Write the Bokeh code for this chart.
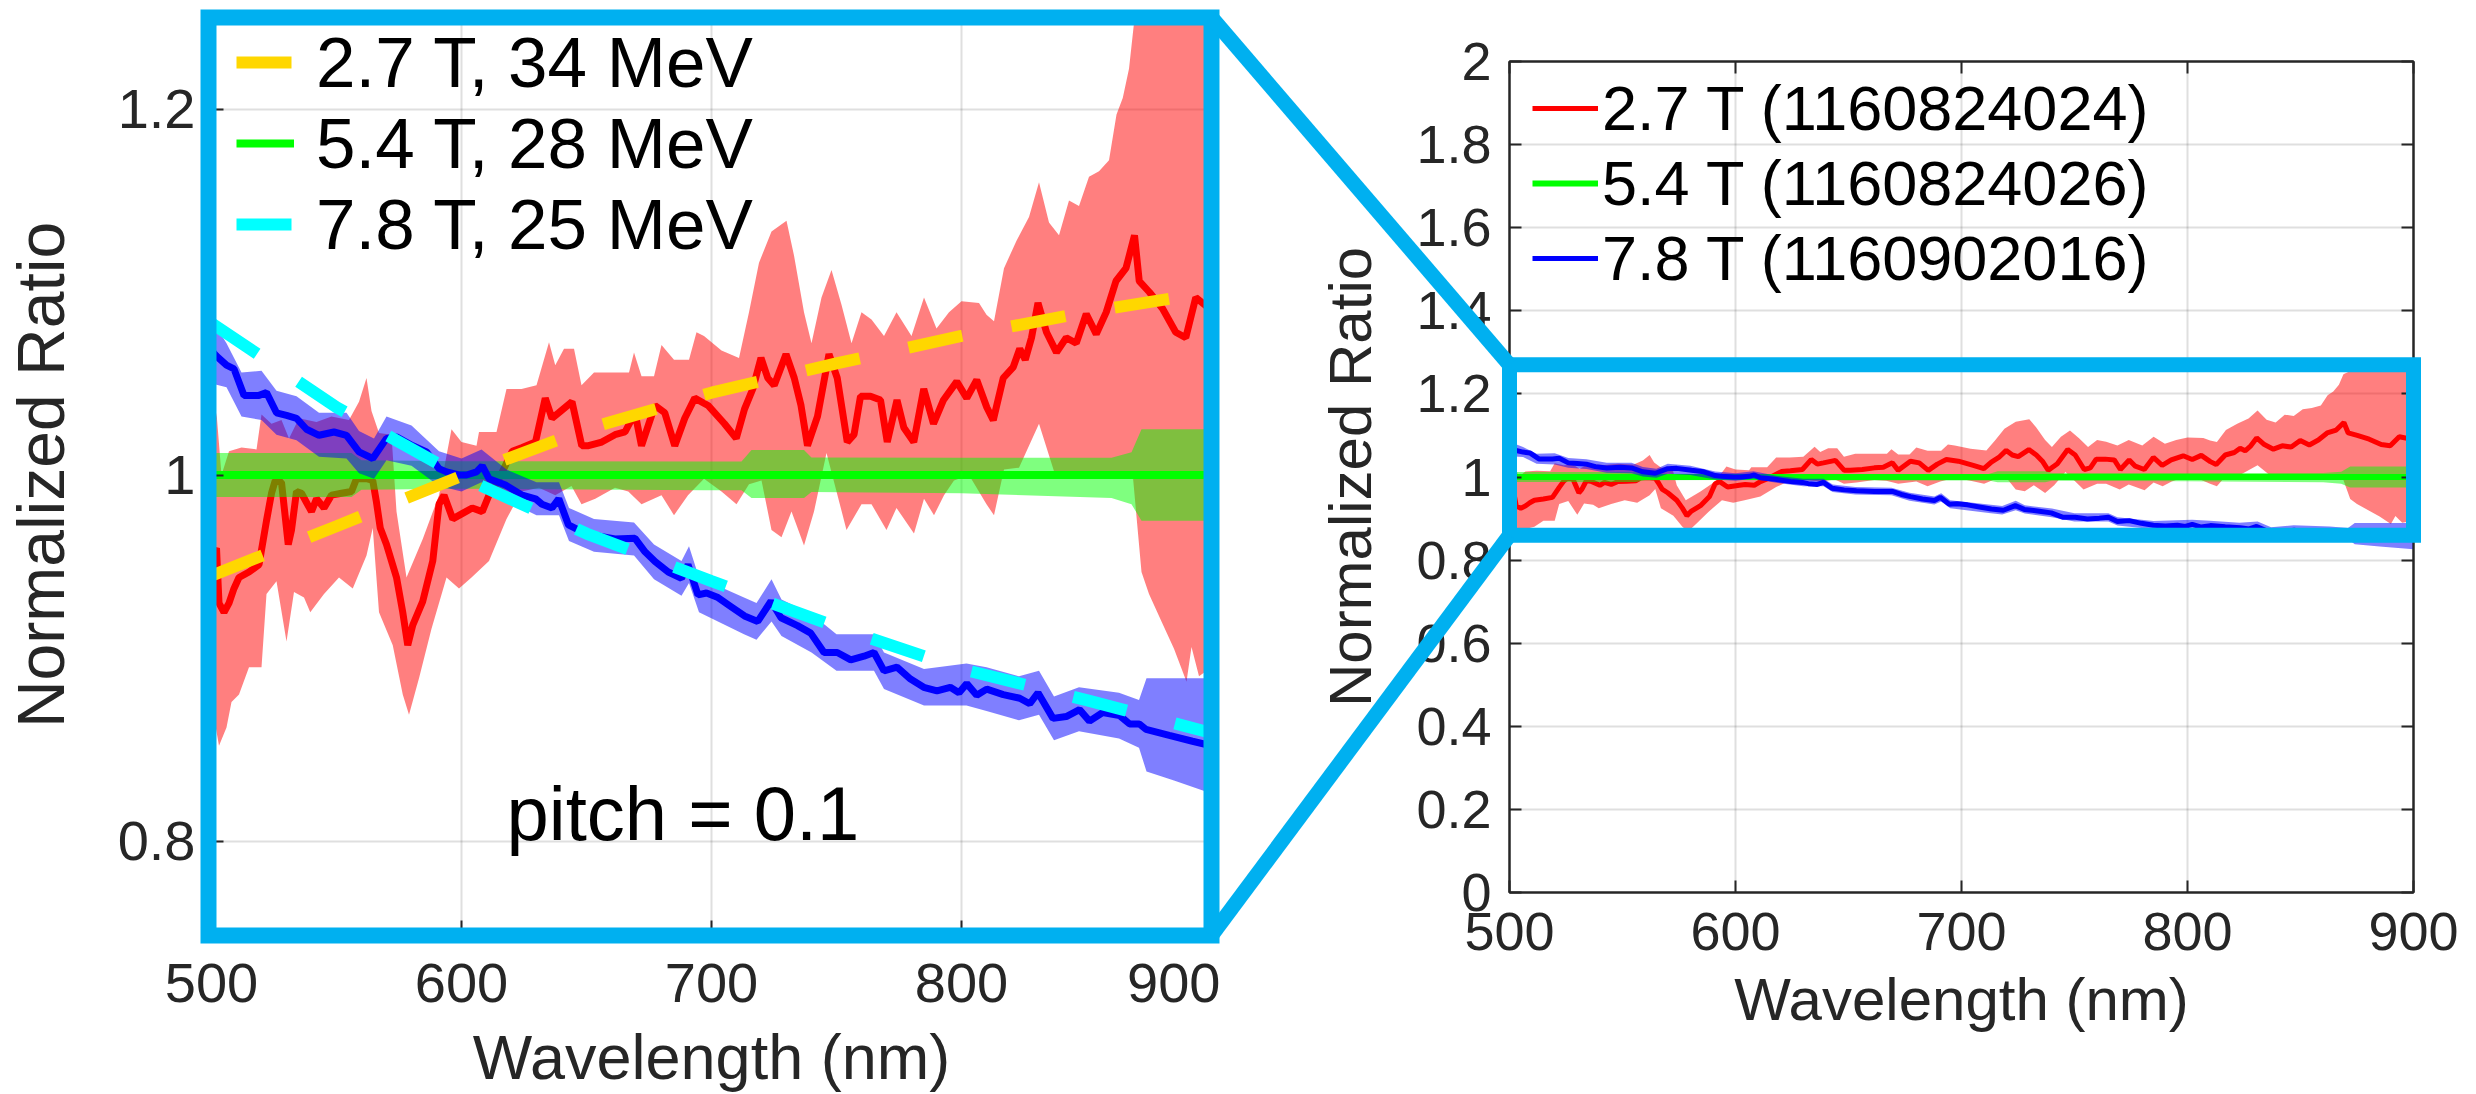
from bokeh.plotting import figure
from bokeh.models import Range1d, FixedTicker, Legend, LegendItem, Label, LinearAxis
from bokeh.layouts import row, column
from bokeh.embed import file_html
from bokeh.resources import INLINE

FONT = "Liberation Sans"
AX_COLOR = "#262626"
ZOOM_BLUE = "#00B0F0"

# ---------------- data ----------------
x_ticks = [500, 600, 700, 800, 900]
x_tick_labels = ["500", "600", "700", "800", "900"]
zoom_y_ticks = [0.8, 1.0, 1.2]
zoom_y_tick_labels = ["0.8", "1", "1.2"]
full_y_ticks = [0, 0.2, 0.4, 0.6, 0.8, 1.0, 1.2, 1.4, 1.6, 1.8, 2.0]
full_y_tick_labels = ["0", "0.2", "0.4", "0.6", "0.8", "1", "1.2", "1.4", "1.6", "1.8", "2"]

fit_labels = ["2.7 T, 34 MeV", "5.4 T, 28 MeV", "7.8 T, 25 MeV"]
shot_labels = ["2.7 T (1160824024)", "5.4 T (1160824026)", "7.8 T (1160902016)"]
pitch_text = "pitch = 0.1"

# 2.7 T measured ratio
red_wl = [500, 502, 503, 505, 507, 509, 511, 515, 519, 522, 524, 525.5, 528, 530.7, 532, 534, 536, 538, 540, 542,
          545, 548, 552, 556, 558, 562, 564.5, 566, 567.5, 570, 574, 576.5, 578.5, 580.5, 584.5, 588.5, 591, 593, 596.5, 601.7,
          604.3, 608.3, 611, 615, 620.3, 624.3, 629.6, 633.5, 636.2, 638.9, 644.2, 648.1, 650.8, 656.1, 661.4, 665.4, 669.4, 672, 677.4, 681.3,
          685.3, 689.3, 693.3, 698.6, 705.2, 709.9, 713.2, 716.5, 719.8, 722.5, 725.1, 729.8, 733.1, 735.8, 738.4, 742.4, 747, 750.3, 754.3, 757,
          759.6, 763.6, 767.6, 770.3, 774.2, 776.9, 780.9, 784.9, 788.8, 792.8, 798.1, 802.1, 806.1, 810.1, 812.7, 816.7, 820.7, 823.3, 825.5, 828,
          830.6, 834, 838, 841.9, 845.9, 849.9, 853.9, 857.9, 861.8, 865.8, 869.2, 871.1, 875.1, 880.4, 885.7, 889.7, 893.7, 900]
red_ratio = [0.955, 0.96, 0.93, 0.925, 0.93, 0.938, 0.944, 0.947, 0.951, 0.975, 0.99, 0.997, 0.996, 0.962, 0.97, 0.991, 0.99, 0.985, 0.98, 0.987,
             0.982, 0.989, 0.99, 0.991, 0.998, 0.998, 0.997, 0.985, 0.971, 0.962, 0.944, 0.925, 0.907, 0.918, 0.931, 0.953, 0.984, 0.989, 0.976, 0.98,
             0.982, 0.98, 0.989, 0.998, 1.013, 1.015, 1.018, 1.042, 1.031, 1.034, 1.04, 1.016, 1.016, 1.018, 1.022, 1.0235, 1.034, 1.016, 1.038, 1.034,
             1.016, 1.031, 1.042, 1.038, 1.028, 1.02, 1.036, 1.047, 1.064, 1.053, 1.049, 1.066, 1.053, 1.038, 1.016, 1.032, 1.066, 1.053, 1.018, 1.022,
             1.043, 1.043, 1.041, 1.018, 1.041, 1.026, 1.018, 1.047, 1.028, 1.041, 1.051, 1.042, 1.052, 1.037, 1.030, 1.053, 1.059, 1.069, 1.063, 1.075,
             1.094, 1.078, 1.067, 1.075, 1.072, 1.088, 1.077, 1.089, 1.106, 1.113, 1.131, 1.106, 1.100, 1.091, 1.078, 1.075, 1.097, 1.09]
red_up_wl = [500, 502, 504, 507, 512, 518, 520, 524, 528, 531, 535, 542, 548, 555, 559, 562, 564, 567, 572, 574,
             578, 584.5, 591, 596, 600, 606, 607, 614, 618, 624, 630, 635, 637.5, 641, 645, 648, 653, 667, 669, 672,
             677, 680, 685, 691, 694, 697, 704, 711, 715, 719, 724, 730, 733, 737, 740, 744, 748, 752, 756, 760,
             764, 769, 774, 780, 785, 790, 795, 800, 807, 810, 813, 817, 822, 827, 831, 835, 839, 843, 847, 851,
             855, 859, 862, 864.5, 867, 869, 872, 880, 890, 900]
red_up = [1.010, 1.034, 1.000, 1.013, 1.015, 1.014, 1.033, 1.028, 1.030, 1.020, 1.031, 1.029, 1.032, 1.030, 1.040, 1.053, 1.035, 1.023, 1.022, 0.980,
          0.944, 0.965, 0.989, 1.025, 1.018, 1.016, 1.0235, 1.0235, 1.047, 1.047, 1.049, 1.0726, 1.060, 1.069, 1.069, 1.049, 1.056, 1.056, 1.067, 1.054,
          1.054, 1.071, 1.063, 1.063, 1.078, 1.076, 1.068, 1.064, 1.089, 1.116, 1.133, 1.139, 1.120, 1.089, 1.072, 1.097, 1.112, 1.093, 1.072, 1.089,
          1.085, 1.076, 1.089, 1.076, 1.097, 1.080, 1.089, 1.095, 1.094, 1.0876, 1.084, 1.113, 1.128, 1.141, 1.160, 1.138, 1.131, 1.150, 1.147, 1.163,
          1.166, 1.172, 1.197, 1.206, 1.222, 1.247, 1.255, 1.260, 1.262, 1.262]
red_lo_wl = [500, 503, 506, 508, 511, 515, 520, 522, 526, 530, 533, 537, 539.5, 545, 551, 556.5, 562, 564.5, 567, 572.5,
             576.5, 579, 583, 588, 594, 599, 604, 611, 618, 624, 631, 637.5, 644, 648, 653.5, 661.4, 666.7, 672, 680, 685,
             690.6, 697, 704, 710, 715, 720, 724, 728, 732, 737, 741, 746, 750, 754, 760, 764, 770, 774, 781, 785,
             789, 793, 797, 803, 810, 813, 817, 823, 831, 837, 843, 850, 857, 863, 868.5, 872, 875, 880, 885, 890,
             892, 895, 900]
red_lo = [0.875, 0.852, 0.862, 0.876, 0.880, 0.895, 0.895, 0.935, 0.942, 0.909, 0.936, 0.933, 0.925, 0.935, 0.944, 0.938, 0.956, 0.971, 0.925, 0.907,
          0.880, 0.869, 0.889, 0.916, 0.944, 0.938, 0.944, 0.953, 0.976, 0.991, 0.993, 0.989, 0.994, 0.984, 0.987, 0.993, 0.991, 0.984, 0.989, 0.978,
          0.989, 0.998, 0.991, 0.984, 0.995, 0.997, 0.970, 0.966, 0.980, 0.9615, 0.980, 1.012, 0.991, 0.970, 0.984, 0.984, 0.970, 0.982, 0.968, 0.987,
          0.978, 0.989, 0.997, 1.000, 0.984, 0.978, 1.003, 1.004, 1.028, 1.002, 0.998, 1.000, 1.001, 0.999, 1.000, 0.947, 0.935, 0.920, 0.905, 0.887,
          0.906, 0.890, 0.895]

# 5.4 T measured ratio (reference shot, flat at 1)
green_wl = [500, 900]
green_ratio = [1.0, 1.0]
green_band_wl = [500, 556, 560, 600, 697, 712, 716, 737, 740, 800, 860, 868, 872, 900]
green_up = [1.012, 1.012, 1.008, 1.0075, 1.0074, 1.0074, 1.0136, 1.0136, 1.0095, 1.0094, 1.0094, 1.0125, 1.025, 1.025]
green_lo = [0.988, 0.988, 0.992, 0.9925, 0.9917, 0.9917, 0.9875, 0.9875, 0.9907, 0.990, 0.9875, 0.984, 0.975, 0.975]

# 7.8 T measured ratio
blue_wl = [500, 502, 506, 509, 513, 519, 522, 526, 530, 534, 538, 543, 549, 554, 559, 564.5, 570, 574, 580.5, 586,
           591, 594, 599, 602, 606, 608.3, 611, 617.6, 624.3, 629.6, 632.2, 636.2, 638.9, 642.8, 648.1, 653.5, 661.4, 669.4, 673.4, 677.4,
           682.7, 688, 690.6, 694.6, 698, 702.6, 707.9, 713.2, 718.5, 723.8, 727.8, 734.4, 739.7, 745, 750.3, 755.7, 761, 765, 769, 774.2,
           779.6, 784.9, 790.2, 795.5, 799, 802.1, 806.1, 810.1, 816.7, 823.3, 827.3, 830.6, 836.6, 841.9, 847.2, 851.2, 856.5, 863.2, 867.2, 871.1,
           873.8, 883.1, 892.4, 900]
blue_ratio = [1.068, 1.065, 1.060, 1.058, 1.0435, 1.0435, 1.045, 1.034, 1.0326, 1.031, 1.025, 1.0217, 1.0235, 1.0217, 1.0126, 1.009, 1.020, 1.0208, 1.016, 1.0126,
              1.0035, 1.0017, 1.000, 1.000, 1.0017, 1.005, 0.998, 0.9945, 0.989, 0.987, 0.984, 0.982, 0.987, 0.9727, 0.969, 0.967, 0.965, 0.9654, 0.958, 0.9527,
              0.947, 0.9436, 0.951, 0.9345, 0.9355, 0.933, 0.928, 0.923, 0.920, 0.931, 0.922, 0.9177, 0.9136, 0.903, 0.903, 0.899, 0.901, 0.903, 0.893, 0.895,
              0.8885, 0.884, 0.882, 0.884, 0.881, 0.886, 0.8796, 0.883, 0.880, 0.878, 0.875, 0.881, 0.867, 0.868, 0.8718, 0.8655, 0.8702, 0.8686, 0.864, 0.864,
              0.861, 0.8577, 0.8545, 0.852]
blue_band_wl = [500, 506, 512, 520, 526, 534, 543, 554, 559, 565, 570, 580, 591, 600, 608, 618, 630, 639, 643, 653,
                669, 677, 688, 691, 695, 713, 718, 724, 728, 740, 750, 765, 769, 785, 802, 810, 823, 831, 837, 847,
                863, 871, 874, 885, 900]
blue_up = [1.085, 1.072, 1.056, 1.057, 1.046, 1.043, 1.034, 1.034, 1.024, 1.020, 1.032, 1.027, 1.013, 1.009, 1.014, 1.003, 0.996, 0.996, 0.982, 0.976,
           0.974, 0.962, 0.953, 0.961, 0.944, 0.933, 0.930, 0.943, 0.932, 0.924, 0.913, 0.913, 0.903, 0.894, 0.897, 0.895, 0.890, 0.893, 0.879, 0.884,
           0.881, 0.877, 0.889, 0.889, 0.889]
blue_lo = [1.050, 1.048, 1.032, 1.030, 1.022, 1.019, 1.010, 1.009, 1.001, 0.998, 1.008, 1.005, 0.994, 0.991, 0.996, 0.986, 0.978, 0.978, 0.964, 0.958,
           0.956, 0.943, 0.934, 0.941, 0.925, 0.913, 0.910, 0.920, 0.912, 0.903, 0.893, 0.893, 0.883, 0.874, 0.874, 0.871, 0.866, 0.869, 0.855, 0.860,
           0.856, 0.851, 0.838, 0.833, 0.826]

# model curves (dashed) in the zoomed panel
fit_wl = [500, 550, 600, 650, 700, 750, 800, 850, 900]
fit_27T = [0.945, 0.972, 0.9995, 1.025, 1.045, 1.061, 1.076, 1.089, 1.100]
fit_78T = [1.083, 1.037, 0.999, 0.968, 0.942, 0.917, 0.894, 0.877, 0.859]

# axis limits of the two panels and the region of the full panel that is enlarged (as drawn)
x_lim = (500, 900)
zoom_y_lim = (0.75, 1.25)
full_y_lim = (0, 2)
zoom_box_x = [500, 900]
zoom_box_y = [0.86, 1.27]

# ---------------- layout constants ----------------
W, H = 2476, 1094
LW = 1220
RW = W - LW
L_MB = dict(left=208, right=9, top=17, bottom=159)
R_MB = dict(left=289, right=63, top=61, bottom=202)


def make_fig(width, yr, mb):
    p = figure(width=width, height=H, x_range=Range1d(*x_lim), y_range=Range1d(*yr),
               output_backend="svg", toolbar_location=None, title=None, frame_align=False,
               min_border_left=mb["left"], min_border_right=mb["right"],
               min_border_top=mb["top"], min_border_bottom=mb["bottom"])
    p.background_fill_color = "white"
    p.border_fill_color = "white"
    p.outline_line_color = None
    return p


def style_axis(ax, ticks, labels, tick_px, label_px, std, lstd, text, line_color):
    ax.ticker = FixedTicker(ticks=ticks)
    ax.major_label_overrides = dict(zip(ticks, labels))
    ax.major_label_text_font = FONT
    ax.major_label_text_font_size = f"{tick_px}px"
    ax.major_label_text_color = AX_COLOR
    ax.major_label_standoff = std
    ax.axis_label = text
    ax.axis_label_text_font = FONT
    ax.axis_label_text_font_size = f"{label_px}px"
    ax.axis_label_text_font_style = "normal"
    ax.axis_label_text_color = AX_COLOR
    ax.axis_label_standoff = lstd
    ax.axis_line_color = line_color
    ax.axis_line_width = 2
    ax.major_tick_line_color = AX_COLOR
    ax.major_tick_line_width = 2
    ax.major_tick_in = 12
    ax.major_tick_out = 0
    ax.minor_tick_line_color = None


def style_grid(p, xt, yt):
    p.xgrid.ticker = FixedTicker(ticks=xt)
    p.ygrid.ticker = FixedTicker(ticks=yt)
    for g in (p.xgrid, p.ygrid):
        g.grid_line_color = AX_COLOR
        g.grid_line_alpha = 0.15
        g.grid_line_width = 2


def draw_measured(p, lw, glw):
    p.patch(red_up_wl + red_lo_wl[::-1], red_up + red_lo[::-1],
            fill_color="#FF0000", fill_alpha=0.5, line_color=None)
    r = p.line(red_wl, red_ratio, line_color="#FF0000", line_width=lw)
    p.patch(green_band_wl + green_band_wl[::-1], green_up + green_lo[::-1],
            fill_color="#00FF00", fill_alpha=0.5, line_color=None)
    g = p.line(green_wl, green_ratio, line_color="#00FF00", line_width=glw)
    p.patch(blue_band_wl + blue_band_wl[::-1], blue_up + blue_lo[::-1],
            fill_color="#0000FF", fill_alpha=0.5, line_color=None)
    b = p.line(blue_wl, blue_ratio, line_color="#0000FF", line_width=lw)
    return r, g, b


# ---------------- left: enlarged panel ----------------
p1 = make_fig(LW, zoom_y_lim, L_MB)
style_axis(p1.xaxis[0], x_ticks, x_tick_labels, 56, 63, 31, 17, "Wavelength (nm)", None)
style_axis(p1.yaxis[0], zoom_y_ticks, zoom_y_tick_labels, 56, 66, 16, 37, "Normalized Ratio", None)
style_grid(p1, x_ticks, zoom_y_ticks)

_, g1, _ = draw_measured(p1, 7, 8)
y_fit = p1.line(fit_wl, fit_27T, line_color="#FFD700", line_width=12, line_dash="55 50")
c_fit = p1.line(fit_wl, fit_78T, line_color="#00FFFF", line_width=12, line_dash="55 50")

L_FW = LW - L_MB["left"] - L_MB["right"]
L_FH = H - L_MB["top"] - L_MB["bottom"]
leg1_px, leg1_gap = 71, 0
leg1_row = round(leg1_px * 1.117)
leg1_h = 3 * leg1_row + 2 * leg1_gap
leg1 = Legend(items=[LegendItem(label=fit_labels[0], renderers=[y_fit]),
                     LegendItem(label=fit_labels[1], renderers=[g1]),
                     LegendItem(label=fit_labels[2], renderers=[c_fit])],
              location=(25, L_FH - (70 - leg1_row / 2 - L_MB["top"]) - leg1_h),
              label_text_font=FONT, label_text_font_size=f"{leg1_px}px", label_text_color="black",
              glyph_width=58, glyph_height=20, label_standoff=22, label_height=20,
              spacing=leg1_gap, padding=0, margin=0,
              border_line_color=None, background_fill_alpha=0)
p1.add_layout(leg1)

p1.add_layout(Label(x=618, y=0.815, text=pitch_text, text_font=FONT, text_font_size="76px",
                    text_color="black", text_baseline="alphabetic", text_align="left"))

# ---------------- right: full panel ----------------
p2 = make_fig(RW, full_y_lim, R_MB)
p2.outline_line_color = AX_COLOR
p2.outline_line_width = 2
style_axis(p2.xaxis[0], x_ticks, x_tick_labels, 54, 60, 20, 13, "Wavelength (nm)", AX_COLOR)
style_axis(p2.yaxis[0], full_y_ticks, full_y_tick_labels, 54, 60, 18, 29, "Normalized Ratio", AX_COLOR)
style_grid(p2, x_ticks, full_y_ticks)
for place, ticks in (("above", x_ticks), ("right", full_y_ticks)):
    p2.add_layout(LinearAxis(ticker=FixedTicker(ticks=ticks), major_label_text_font_size="1px",
                             major_label_text_color=None, major_label_standoff=0,
                             axis_line_color=AX_COLOR, axis_line_width=2,
                             major_tick_in=12, major_tick_out=0, major_tick_line_color=AX_COLOR,
                             major_tick_line_width=2, minor_tick_line_color=None), place)

r2, g2, b2 = draw_measured(p2, 5, 6)
R_FW = RW - R_MB["left"] - R_MB["right"]
R_FH = H - R_MB["top"] - R_MB["bottom"]
leg2_px, leg2_gap = 63, 3
leg2_row = round(leg2_px * 1.117)
leg2_h = 3 * leg2_row + 2 * leg2_gap
leg2 = Legend(items=[LegendItem(label=shot_labels[0], renderers=[r2]),
                     LegendItem(label=shot_labels[1], renderers=[g2]),
                     LegendItem(label=shot_labels[2], renderers=[b2])],
              location=(23, R_FH - (113 - leg2_row / 2 - R_MB["top"]) - leg2_h),
              label_text_font=FONT, label_text_font_size=f"{leg2_px}px", label_text_color="black",
              glyph_width=66, glyph_height=20, label_standoff=4, label_height=20,
              spacing=leg2_gap, padding=0, margin=0,
              border_line_color=None, background_fill_alpha=0)
p2.add_layout(leg2)


# ---------------- transparent overlay: zoom boxes and connector lines ----------------
def left_page(x, y):
    return (L_MB["left"] + (x - x_lim[0]) / (x_lim[1] - x_lim[0]) * L_FW,
            L_MB["top"] + (zoom_y_lim[1] - y) / (zoom_y_lim[1] - zoom_y_lim[0]) * L_FH)


def right_page(x, y):
    return (LW + R_MB["left"] + (x - x_lim[0]) / (x_lim[1] - x_lim[0]) * R_FW,
            R_MB["top"] + (full_y_lim[1] - y) / (full_y_lim[1] - full_y_lim[0]) * R_FH)


ov = figure(width=W, height=H, x_range=Range1d(0, W), y_range=Range1d(H, 0),
            output_backend="svg", toolbar_location=None, title=None, frame_align=False,
            x_axis_type=None, y_axis_type=None,
            min_border_left=0, min_border_right=0, min_border_top=0, min_border_bottom=0)
ov.background_fill_color = None
ov.border_fill_color = None
ov.outline_line_color = None
ov.margin = (-H, 0, 0, 0)

l_x0, l_y0 = left_page(x_lim[0], zoom_y_lim[1])
l_x1, l_y1 = left_page(x_lim[1], zoom_y_lim[0])
r_x0, r_y0 = right_page(zoom_box_x[0], zoom_box_y[1])
r_x1, r_y1 = right_page(zoom_box_x[1], zoom_box_y[0])
ov.quad(left=[l_x0], right=[l_x1], top=[l_y0], bottom=[l_y1], fill_color=None,
        line_color=ZOOM_BLUE, line_width=16, line_join="miter")
ov.quad(left=[r_x0], right=[r_x1], top=[r_y0], bottom=[r_y1], fill_color=None,
        line_color=ZOOM_BLUE, line_width=15, line_join="miter")
ov.segment(x0=[l_x1, l_x1], y0=[l_y0, l_y1], x1=[r_x0, r_x0], y1=[r_y0, r_y1],
           line_color=ZOOM_BLUE, line_width=15)

layout = column(row(p1, p2), ov)
open("out.html", "w").write(file_html(layout, INLINE))
